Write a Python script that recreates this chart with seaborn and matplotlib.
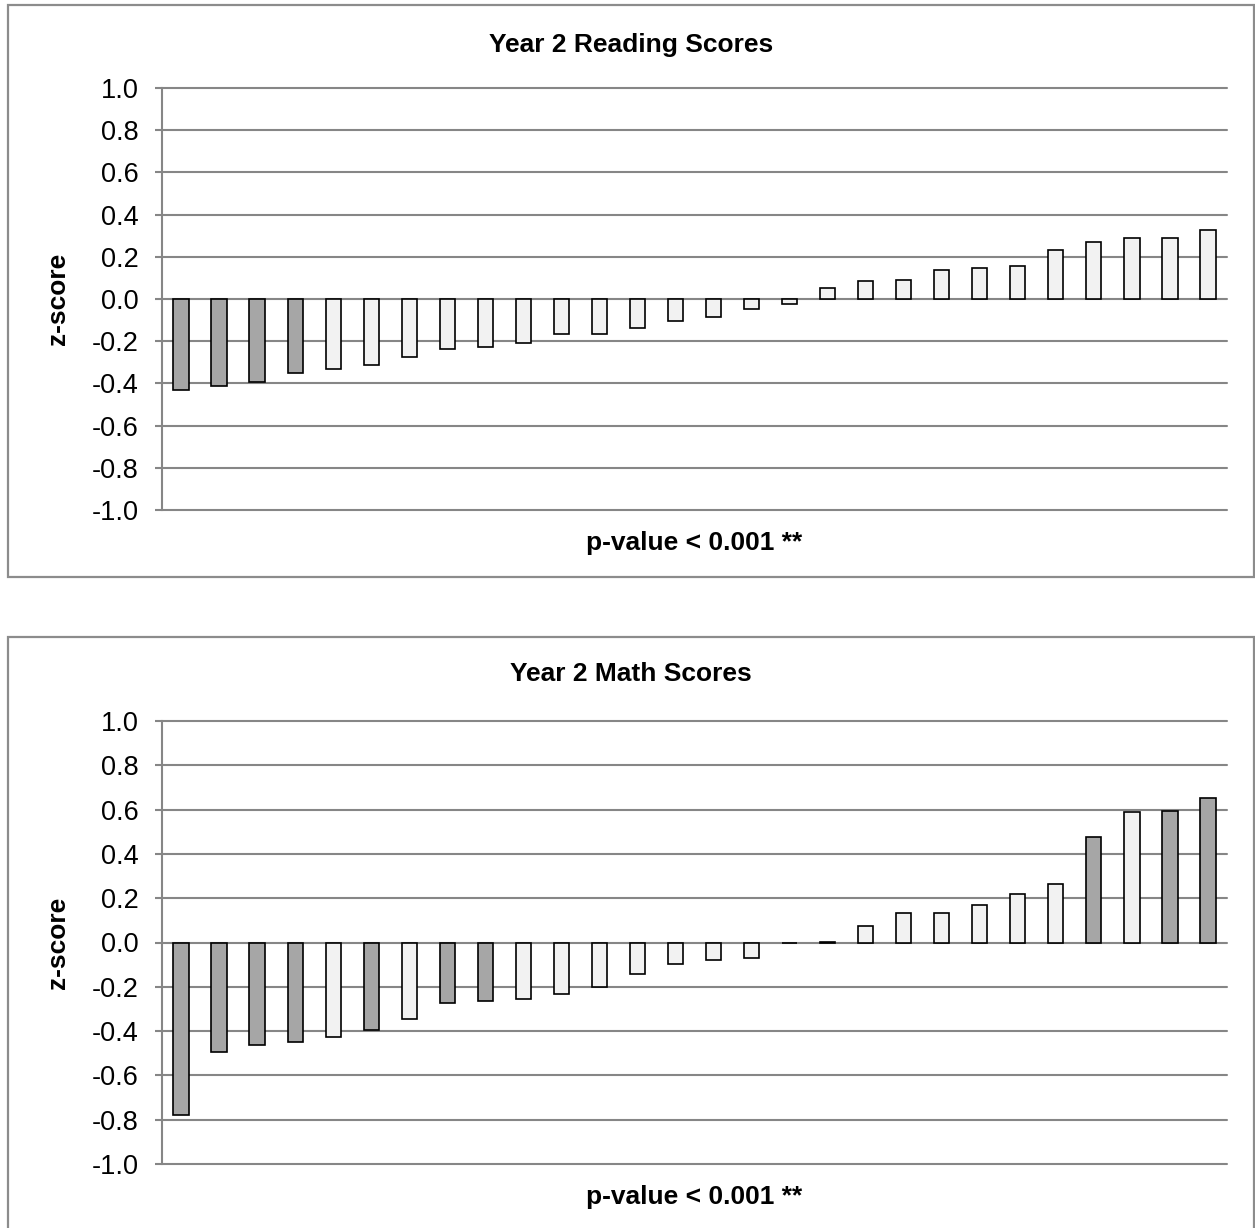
import numpy as np
import pandas as pd
import matplotlib
matplotlib.use("Agg")
import matplotlib.pyplot as plt
import seaborn as sns
from matplotlib.patches import Rectangle

# z-scores, sorted low to high
reading_z = [-0.430, -0.413, -0.395, -0.349, -0.330, -0.313, -0.276, -0.235,
             -0.229, -0.208, -0.168, -0.168, -0.138, -0.104, -0.086, -0.048,
             -0.024, 0.054, 0.086, 0.090, 0.137, 0.148, 0.157, 0.230,
             0.271, 0.289, 0.290, 0.329]
reading_sig = ["sig"] * 4 + ["ns"] * 24

math_z = [-0.779, -0.495, -0.463, -0.451, -0.427, -0.397, -0.344, -0.272,
          -0.266, -0.256, -0.233, -0.200, -0.140, -0.095, -0.080, -0.068,
          -0.004, 0.004, 0.074, 0.131, 0.134, 0.168, 0.221, 0.265,
          0.475, 0.591, 0.595, 0.654]
math_sig = ["sig", "sig", "sig", "sig", "ns", "sig", "ns", "sig",
            "sig", "ns", "ns", "ns", "ns", "ns", "ns", "ns",
            "ns", "ns", "ns", "ns", "ns", "ns", "ns", "ns",
            "sig", "ns", "sig", "sig"]

titles = ["Year 2 Reading Scores", "Year 2 Math Scores"]
xlabel = "p-value < 0.001 **"
ylabel = "z-score"
yticks = [-1.0, -0.8, -0.6, -0.4, -0.2, 0.0, 0.2, 0.4, 0.6, 0.8, 1.0]
ytick_labels = ["-1.0", "-0.8", "-0.6", "-0.4", "-0.2", "0.0",
                "0.2", "0.4", "0.6", "0.8", "1.0"]

sns.set_style("white")
plt.rcParams["font.family"] = ["Liberation Sans", "DejaVu Sans"]

W, H = 1255, 1228
fig = plt.figure(figsize=(W / 100, H / 100), dpi=100)

grid_col = "#868686"
pal = {"sig": "#A6A6A6", "ns": "#F2F2F2"}

# (axes top px, axes bottom px, title y px, box top px, box bottom px)
panels = [
    (88, 510, 45, 5, 577),
    (721, 1164, 674, 637, 1240),
]
datasets = [(reading_z, reading_sig), (math_z, math_sig)]

for (top, bot, ty, bt, bb), (vals, sig), title in zip(panels, datasets, titles):
    # chart area border
    fig.patches.append(Rectangle((7.5 / W, 1 - bb / H), (W - 8.5) / W, (bb - bt) / H,
                                 transform=fig.transFigure, fill=False,
                                 edgecolor="#8C8C8C", linewidth=1.6))
    ax = fig.add_axes([162 / W, 1 - bot / H, (1227 - 162) / W, (bot - top) / H])
    df = pd.DataFrame({"idx": range(len(vals)), "z": vals, "sig": sig})
    sns.barplot(data=df, x="idx", y="z", hue="sig", palette=pal, dodge=False,
                width=0.4, edgecolor="black", linewidth=1.2, legend=False,
                ax=ax, zorder=3)
    ax.set_xlim(-0.5, len(vals) - 0.5)
    ax.set_ylim(-1.0, 1.0)
    ax.set_yticks(yticks)
    ax.set_yticklabels(ytick_labels, fontsize=19.5, color="black")
    ax.set_xticks([])
    ax.yaxis.grid(True, color=grid_col, linewidth=1.5, clip_on=False)
    ax.set_axisbelow(True)
    for s in ["top", "right", "bottom"]:
        ax.spines[s].set_visible(False)
    ax.spines["left"].set_color(grid_col)
    ax.spines["left"].set_linewidth(1.5)
    ax.tick_params(axis="y", length=5, width=1.5, color=grid_col, pad=12,
                   left=True)
    ax.set_xlabel(xlabel, fontsize=19, fontweight="bold", labelpad=15,
                  color="black")
    ax.set_ylabel("")
    fig.text(58 / W, 1 - (top + bot) / 2 / H, ylabel, rotation=90, ha="center",
             va="center", fontsize=19, fontweight="bold", color="black")
    fig.text(0.503, 1 - ty / H, title, ha="center", va="center",
             fontsize=19, fontweight="bold", color="black")

fig.savefig("out.png", dpi=100)
